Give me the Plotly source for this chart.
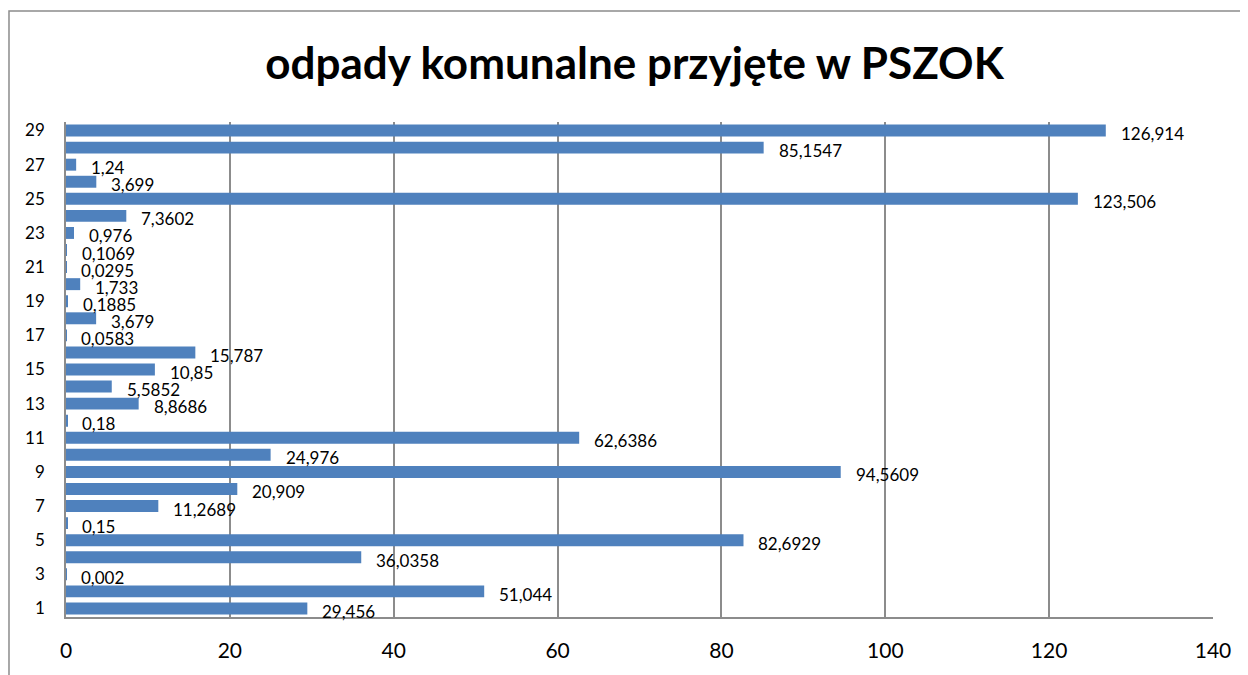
import plotly.graph_objects as go

# dane
kategorie = list(range(1, 30))
wartosci = [29.456, 51.044, 0.002, 36.0358, 82.6929, 0.15, 11.2689, 20.909,
            94.5609, 24.976, 62.6386, 0.18, 8.8686, 5.5852, 10.85, 15.787,
            0.0583, 3.679, 0.1885, 1.733, 0.0295, 0.1069, 0.976, 7.3602,
            123.506, 3.699, 1.24, 85.1547, 126.914]
etykiety = ["29,456", "51,044", "0,002", "36,0358", "82,6929", "0,15", "11,2689",
            "20,909", "94,5609", "24,976", "62,6386", "0,18", "8,8686", "5,5852",
            "10,85", "15,787", "0,0583", "3,679", "0,1885", "1,733", "0,0295",
            "0,1069", "0,976", "7,3602", "123,506", "3,699", "1,24", "85,1547",
            "126,914"]

FONT = "Lato"

fig = go.Figure()
fig.add_trace(go.Bar(x=wartosci, y=kategorie, orientation="h", width=0.7,
                     marker=dict(color="#4F81BD", line=dict(width=0))))

for k, w, t in zip(kategorie, wartosci, etykiety):
    fig.add_annotation(x=w, y=k, text=t, showarrow=False, xanchor="left",
                       xshift=13, yshift=-3,
                       font=dict(family=FONT, size=17, color="black"))

# ramka wykresu
fig.add_shape(type="rect", xref="paper", yref="paper",
              x0=-0.0497, x1=1.2, y0=-0.5, y1=1.2242,
              line=dict(color="#8c8c8c", width=1.5), layer="below")

fig.update_layout(
    width=1248, height=675,
    margin=dict(l=58, r=43, t=114, b=66),
    paper_bgcolor="white", plot_bgcolor="white",
    showlegend=False,
    title=dict(text="<b>odpady komunalne przyjęte w PSZOK</b>",
               x=0.502, xanchor="center", y=0.917, yanchor="middle",
               font=dict(family=FONT, size=44, color="black")),
    font=dict(family=FONT, color="black"),
)
fig.update_xaxes(range=[0, 140], dtick=20, showgrid=True, gridcolor="#8c8c8c",
                 gridwidth=1.5, showline=True, linecolor="#8c8c8c", linewidth=1.5,
                 zeroline=False, tickfont=dict(size=21), ticklabelstandoff=14)
fig.update_yaxes(range=[0.5, 29.5], tickmode="linear", tick0=1, dtick=2,
                 showgrid=False, showline=True, linecolor="#8c8c8c",
                 linewidth=1.5, zeroline=False, tickfont=dict(size=17),
                 ticklabelstandoff=16)

fig.write_html("out.html")
